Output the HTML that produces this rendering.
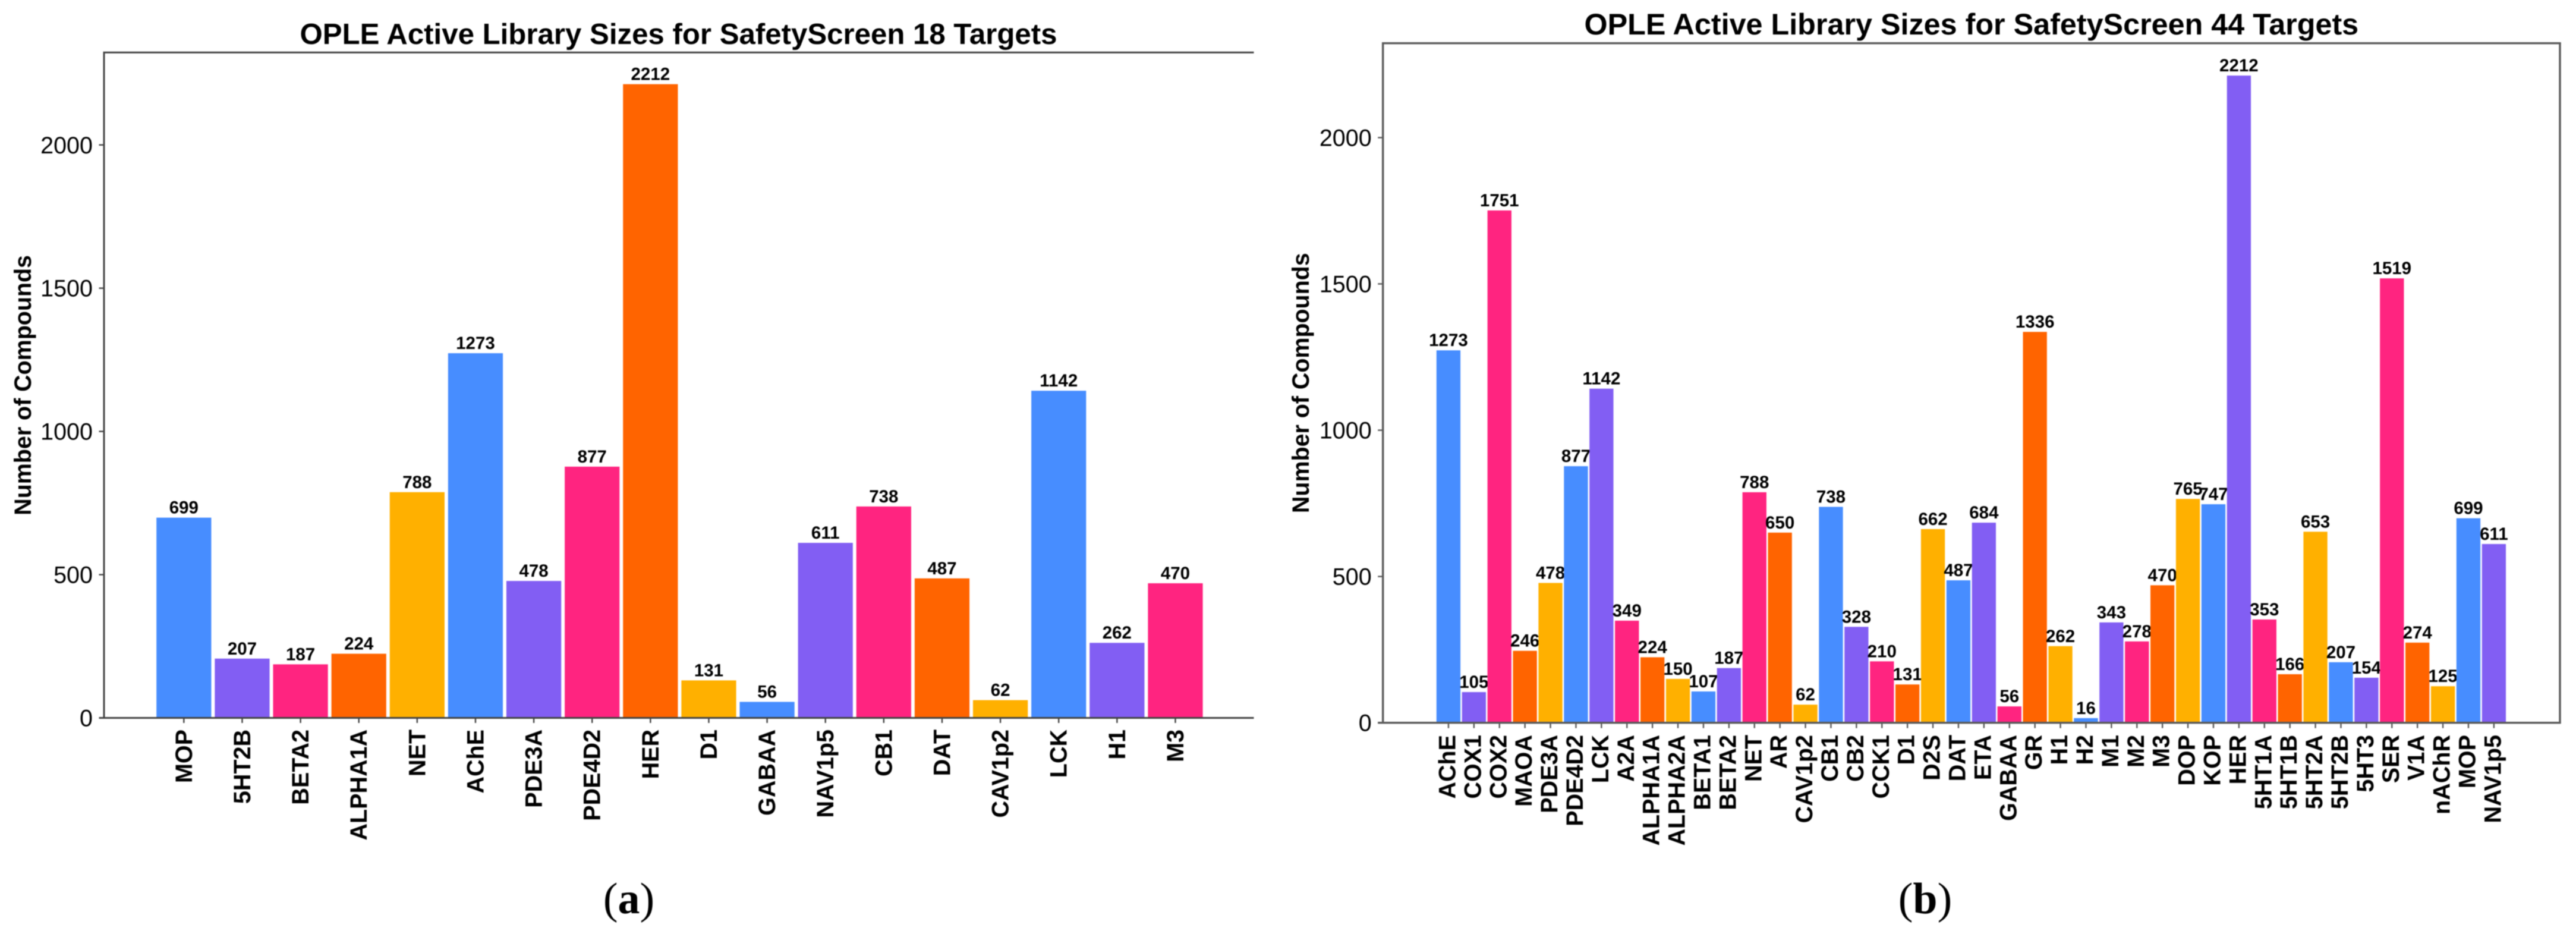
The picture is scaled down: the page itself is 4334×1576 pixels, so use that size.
<!DOCTYPE html>
<html lang="en">
<head>
<meta charset="utf-8">
<title>OPLE Active Library Sizes</title>
<style>
html,body{margin:0;padding:0;background:#fff;}
body{width:4334px;height:1576px;overflow:hidden;}
svg{display:block;filter:blur(0.7px);}
text{font-family:"Liberation Sans",Arial,sans-serif;fill:#000;}
</style>
</head>
<body>
<svg id="figure" xmlns="http://www.w3.org/2000/svg" width="4334" height="1576" viewBox="0 0 4334 1576">
  <rect x="0" y="0" width="4334" height="1576" fill="#ffffff"/>
  <g id="panel-a"></g>
  <g id="panel-b"></g>
  <text x="1058" y="1536" text-anchor="middle" font-size="74" style="font-family:'Liberation Serif',serif">(<tspan font-weight="bold">a</tspan>)</text>
  <text x="3239" y="1536" text-anchor="middle" font-size="74" style="font-family:'Liberation Serif',serif">(<tspan font-weight="bold">b</tspan>)</text>
</svg>
<script>
var aTitle = "OPLE Active Library Sizes for SafetyScreen 18 Targets";
var aCategories = ["MOP","5HT2B","BETA2","ALPHA1A","NET","AChE","PDE3A","PDE4D2","HER","D1","GABAA","NAV1p5","CB1","DAT","CAV1p2","LCK","H1","M3"];
var aValues = [699,207,187,224,788,1273,478,877,2212,131,56,611,738,487,62,1142,262,470];

var bTitle = "OPLE Active Library Sizes for SafetyScreen 44 Targets";
var bCategories = ["AChE","COX1","COX2","MAOA","PDE3A","PDE4D2","LCK","A2A","ALPHA1A","ALPHA2A","BETA1","BETA2","NET","AR","CAV1p2","CB1","CB2","CCK1","D1","D2S","DAT","ETA","GABAA","GR","H1","H2","M1","M2","M3","DOP","KOP","HER","5HT1A","5HT1B","5HT2A","5HT2B","5HT3","SER","V1A","nAChR","MOP","NAV1p5"];
var bValues = [1273,105,1751,246,478,877,1142,349,224,150,107,187,788,650,62,738,328,210,131,662,487,684,56,1336,262,16,343,278,470,765,747,2212,353,166,653,207,154,1519,274,125,699,611];

var yTickValues = [0,500,1000,1500,2000];
var yAxisLabel = "Number of Compounds";
var barColors = ["#478DFF","#825EF3","#FF2480","#FF6400","#FFB000"];

var SVG_NS = "http://www.w3.org/2000/svg";

function mk(parent, tag, attrs) {
  var el = document.createElementNS(SVG_NS, tag);
  for (var k in attrs) { el.setAttribute(k, attrs[k]); }
  parent.appendChild(el);
  return el;
}

function drawPanel(root, title, categories, values, cfg) {
  var plotW = cfg.right - cfg.left;
  function xScale(i) {
    return cfg.left + (i - cfg.domainMin) / (cfg.domainMax - cfg.domainMin) * plotW;
  }
  function yScale(v) {
    return cfg.y0 - v / cfg.yMax * (cfg.y0 - cfg.top);
  }
  var pitch = xScale(1) - xScale(0);
  var barW = pitch * 0.94;

  var t = mk(root, "text", {x: (cfg.left + cfg.right) / 2, y: cfg.titleY, "text-anchor": "middle", "font-size": cfg.titleSize, "font-weight": "bold"});
  t.textContent = title;
  
  

  var yl = mk(root, "text", {x: 0, y: 0, "text-anchor": "middle", "font-size": 39.4, "font-weight": "bold", transform: "translate(" + cfg.yLabelX + "," + ((cfg.top + cfg.y0) / 2) + ") rotate(-90)"});
  yl.textContent = yAxisLabel;
  
  

  categories.forEach(function (name, i) {
    var cx = xScale(i);
    var top = yScale(values[i]);
    var bar = mk(root, "rect", {x: cx - barW / 2, y: top, width: barW, height: cfg.y0 - top, fill: barColors[i % barColors.length]});
    
    

    var val = mk(root, "text", {x: cx, y: top - 7, "text-anchor": "middle", "font-size": 29.5, "font-weight": "bold"});
    val.textContent = values[i];
    
    

    var tick = mk(root, "line", {x1: cx, x2: cx, y1: cfg.y0, y2: cfg.y0 + cfg.xTickLen, stroke: cfg.spine, "stroke-width": 2.4});
    
    

    var lab = mk(root, "text", {x: 0, y: 0, "text-anchor": "end", "font-size": 39.5, "font-weight": "bold", transform: "translate(" + (cx + cfg.xLabelDx) + "," + cfg.xLabelY + ") rotate(-90)"});
    lab.textContent = name;
    
    
  });

  yTickValues.forEach(function (v) {
    var y = yScale(v);
    var tick = mk(root, "line", {x1: cfg.left - 8.5, x2: cfg.left, y1: y, y2: y, stroke: cfg.spine, "stroke-width": 2.4});
    
    

    var lab = mk(root, "text", {x: cfg.left - 19, y: y + 14, "text-anchor": "end", "font-size": 39.5});
    lab.textContent = v;
    
    
  });

  var sl = mk(root, "line", {x1: cfg.left, x2: cfg.left, y1: cfg.top, y2: cfg.y0, stroke: cfg.spine, "stroke-width": cfg.spineW});
  
  

  var st = mk(root, "line", {x1: cfg.left - cfg.spineW / 2, x2: cfg.right + cfg.spineW / 2, y1: cfg.top, y2: cfg.top, stroke: cfg.spine, "stroke-width": cfg.spineW});
  
  

  var sb = mk(root, "line", {x1: cfg.left - 8.5, x2: cfg.right + cfg.spineW / 2, y1: cfg.y0, y2: cfg.y0, stroke: cfg.spine, "stroke-width": cfg.spineW});
  
  

  if (cfg.rightSpine) {
    var sr = mk(root, "line", {x1: cfg.right, x2: cfg.right, y1: cfg.top, y2: cfg.y0, stroke: cfg.spine, "stroke-width": cfg.spineW});
    
    
  }
}

drawPanel(document.getElementById("panel-a"), aTitle, aCategories, aValues, {
  left: 175, right: 2108, top: 88.3, y0: 1207.5, yMax: 2322.6,
  domainMin: -1.369, domainMax: 18.33,
  titleY: 74, titleSize: 49.2, yLabelX: 52,
  xTickLen: 8.5, xLabelDx: 13.5, xLabelY: 1227,
  spine: "#444444", spineW: 3, rightSpine: false
});

drawPanel(document.getElementById("panel-b"), bTitle, bCategories, bValues, {
  left: 2326.7, right: 4307, top: 72.7, y0: 1215.7, yMax: 2322.6,
  domainMin: -2.57, domainMax: 43.59,
  titleY: 58, titleSize: 50.3, yLabelX: 2202,
  xTickLen: 9, xLabelDx: 11.5, xLabelY: 1236,
  spine: "#5a5a5a", spineW: 3.4, rightSpine: true
});
</script>
</body>
</html>
